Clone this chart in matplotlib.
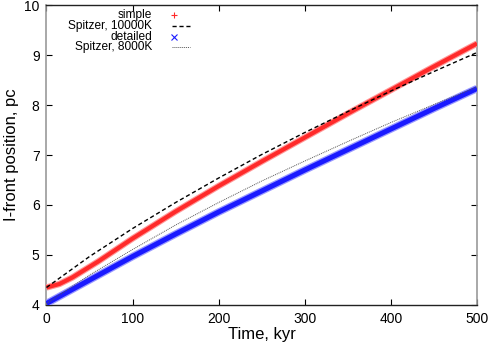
import matplotlib
matplotlib.use("Agg")
import matplotlib.pyplot as plt
from matplotlib.lines import Line2D

plt.rcParams['font.family'] = ['Liberation Sans', 'DejaVu Sans']

# values
time_simple = [0, 15, 30, 60, 100, 150, 200, 250, 300, 350, 400, 450, 500]
r_simple = [4.35, 4.42, 4.55, 4.87, 5.33, 5.87, 6.38, 6.87, 7.35, 7.83, 8.30, 8.77, 9.23]

time_detailed = [0, 50, 100, 150, 200, 250, 300, 350, 400, 450, 500]
r_detailed = [4.03, 4.50, 4.97, 5.42, 5.86, 6.28, 6.70, 7.11, 7.52, 7.93, 8.33]

time_spitzer = [0, 50, 100, 150, 200, 250, 300, 350, 400, 450, 500]
r_spitzer_10000 = [4.35, 4.97, 5.53, 6.05, 6.54, 7.01, 7.45, 7.87, 8.28, 8.67, 9.05]
r_spitzer_8000 = [4.03, 4.60, 5.11, 5.60, 6.05, 6.48, 6.88, 7.27, 7.65, 8.01, 8.36]

legend_labels = ['simple', 'Spitzer, 10000K', 'detailed', 'Spitzer, 8000K']

fig = plt.figure(figsize=(4.91, 3.43), dpi=100)
ax = fig.add_axes([0.0947, 0.1108, 0.8768, 0.8746])

red = '#ff2a2a'
blue = '#1a1aff'

# thick bands made of dense markers in the original
ax.plot(time_simple, r_simple, color='#ff9999', lw=4.6, solid_capstyle='butt', zorder=3)
ax.plot(time_simple, r_simple, color=red, lw=3.0, solid_capstyle='butt', zorder=3)
ax.plot(time_spitzer, r_spitzer_10000, color='black', lw=1.0, ls=(0, (3, 2)), zorder=4)
ax.plot(time_detailed, r_detailed, color='#9999ff', lw=5.4, solid_capstyle='butt', zorder=3)
ax.plot(time_detailed, r_detailed, color=blue, lw=3.6, solid_capstyle='butt', zorder=3)
ax.plot(time_spitzer, r_spitzer_8000, color='#555555', lw=0.7, ls=(0, (1, 1)), zorder=4)

ax.set_xlim(0, 500)
ax.set_ylim(4, 10)
ax.set_xticks(range(0, 501, 100))
ax.set_yticks(range(4, 11))
ax.tick_params(direction='in', length=4, width=0.8, top=True, right=True, labelsize=10, pad=5)
ax.set_xlabel('Time, kyr', fontsize=12, labelpad=1)
ax.set_ylabel('I-front position, pc', fontsize=12, labelpad=4)

for side in ['left', 'right']:
    ax.spines[side].set_color('#999999')
    ax.spines[side].set_linewidth(1.2)
for side in ['top', 'bottom']:
    ax.spines[side].set_color('#222222')
    ax.spines[side].set_linewidth(1.0)

# gnuplot-style key: label right aligned, sample after it
rows = [0.9667, 0.9307, 0.8947, 0.8587]
text_x = 0.2458
for label, y in zip(legend_labels, rows):
    ax.text(text_x, y, label, transform=ax.transAxes, ha='right', va='center', fontsize=8.6)

ax.add_line(Line2D([0.2973], [rows[0]], transform=ax.transAxes, marker='+', color=red,
                   markersize=5, markeredgewidth=0.8, ls='none'))
ax.add_line(Line2D([0.2904, 0.3333], [rows[1], rows[1]], transform=ax.transAxes, color='black',
                   lw=1.0, ls=(0, (3, 2))))
ax.add_line(Line2D([0.2973], [rows[2]], transform=ax.transAxes, marker='x', color=blue,
                   markersize=4, markeredgewidth=0.8, ls='none'))
ax.add_line(Line2D([0.2904, 0.3333], [rows[3], rows[3]], transform=ax.transAxes, color='#555555',
                   lw=0.7, ls=(0, (1, 1))))

fig.savefig('out.png', dpi=100)
